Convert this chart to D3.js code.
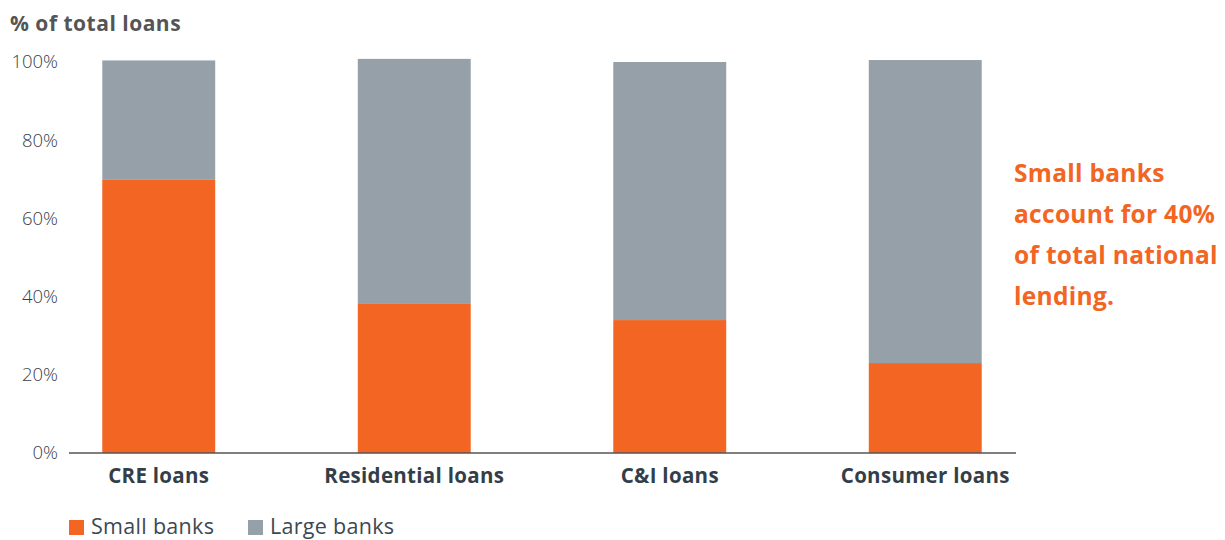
<!DOCTYPE html>
<meta charset="utf-8">
<style>
body { margin: 0; background: #fff; }
svg { display: block; font-family: "Open Sans", sans-serif; }
.tick text { fill: #36414b; font-family: "Open Sans", sans-serif; font-size: 18.5px; font-weight: 300; }
.axis--x .tick text { fill: #333e48; font-size: 20.5px; font-weight: 700; letter-spacing: 0.3px; }
.chart-title { fill: #555; font-size: 21px; font-weight: 700; letter-spacing: 0.5px; }
.note { fill: #f26522; font-size: 24.5px; font-weight: 700; letter-spacing: 0.3px; }
.legend text { fill: #3d4852; font-size: 21.5px; font-weight: 400; letter-spacing: 0.3px; }
</style>
<svg width="1225" height="540"></svg>
<script src="https://d3js.org/d3.v7.min.js"></script>
<script>

var categories = ["CRE loans", "Residential loans", "C&I loans", "Consumer loans"];
var smallBanks = [70.0, 38.3, 34.0, 23.0];
var largeBanks = [30.4, 62.5, 66.0, 77.5];
var yTicks = [0, 20, 40, 60, 80, 100];
var seriesNames = ["Small banks", "Large banks"];
var noteLines = ["Small banks", "account for 40%", "of total national", "lending."];

var colors = { "Small banks": "#f36523", "Large banks": "#95a0a8" };

var svg = d3.select("svg");

var data = categories.map(function(c, i) {
  return { cat: c, "Small banks": smallBanks[i], "Large banks": largeBanks[i] };
});

var x = d3.scaleBand()
    .domain(categories)
    .range([31, 1053])
    .paddingInner(0.558)
    .paddingOuter(0.279);

var y = d3.scaleLinear().domain([0, 100]).range([453, 62]);

var stack = d3.stack().keys(seriesNames);
var layers = stack(data);

svg.append("g")
  .selectAll("g")
  .data(layers)
  .enter().append("g")
    .attr("fill", function(d) { return colors[d.key]; })
  .selectAll("rect")
  .data(function(d) { return d; })
  .enter().append("rect")
    .attr("x", function(d) { return x(d.data.cat); })
    .attr("y", function(d) { return y(d[1]); })
    .attr("width", x.bandwidth())
    .attr("height", function(d) { return y(d[0]) - y(d[1]); });

// y axis labels only
var yAxis = svg.append("g")
    .attr("transform", "translate(58,0)")
    .call(d3.axisLeft(y).tickValues(yTicks).tickSize(0).tickPadding(0)
      .tickFormat(function(d) { return d + "%"; }));
yAxis.select(".domain").remove();

// baseline
svg.append("line")
    .attr("x1", 69).attr("x2", 1016)
    .attr("y1", y(0)).attr("y2", y(0))
    .attr("stroke", "#555").attr("stroke-width", 1.5);

var xAxis = svg.append("g")
    .attr("class", "axis--x")
    .attr("transform", "translate(0," + y(0) + ")")
    .call(d3.axisBottom(x).tickSize(0).tickPadding(15));
xAxis.select(".domain").remove();

svg.append("text")
    .attr("class", "chart-title")
    .attr("x", 10).attr("y", 31)
    .text("% of total loans");

svg.append("g")
  .selectAll("text")
  .data(noteLines)
  .enter().append("text")
    .attr("class", "note")
    .attr("x", 1014)
    .attr("y", function(d, i) { return 182 + i * 41; })
    .text(function(d) { return d; });

var legend = svg.append("g").attr("class", "legend");
var legendX = [69, 248];
seriesNames.forEach(function(name, i) {
  legend.append("rect")
      .attr("x", legendX[i]).attr("y", 520)
      .attr("width", 15).attr("height", 15)
      .attr("fill", colors[name]);
  legend.append("text")
      .attr("x", legendX[i] + 22).attr("y", 534)
      .text(name);
});

</script>
